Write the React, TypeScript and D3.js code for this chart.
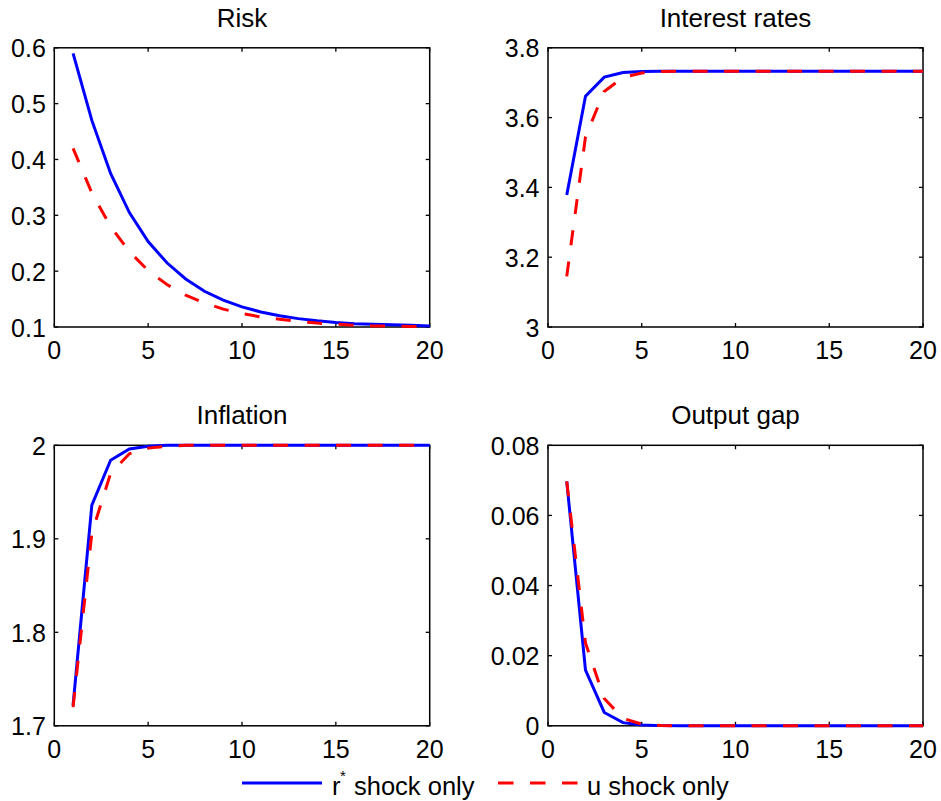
import React from "react";
import * as d3 from "d3";

const periods = d3.range(1, 21);

const riskRstar = [0.59, 0.47, 0.375, 0.305, 0.253, 0.215, 0.186, 0.164, 0.148, 0.136, 0.127, 0.12, 0.115, 0.111, 0.108, 0.106, 0.105, 0.104, 0.103, 0.102];
const riskU = [0.42, 0.34, 0.28, 0.235, 0.201, 0.176, 0.157, 0.143, 0.132, 0.124, 0.118, 0.114, 0.11, 0.107, 0.105, 0.103, 0.102, 0.102, 0.101, 0.101];

const rateRstar = [3.378, 3.661, 3.716, 3.729, 3.732, 3.733, 3.733, 3.733, 3.733, 3.733, 3.733, 3.733, 3.733, 3.733, 3.733, 3.733, 3.733, 3.733, 3.733, 3.733];
const rateU = [3.145, 3.545, 3.675, 3.715, 3.728, 3.732, 3.733, 3.733, 3.733, 3.733, 3.733, 3.733, 3.733, 3.733, 3.733, 3.733, 3.733, 3.733, 3.733, 3.733];

const inflRstar = [1.722, 1.936, 1.984, 1.996, 1.999, 2.0, 2.0, 2.0, 2.0, 2.0, 2.0, 2.0, 2.0, 2.0, 2.0, 2.0, 2.0, 2.0, 2.0, 2.0];
const inflU = [1.72, 1.906, 1.97, 1.991, 1.997, 1.999, 2.0, 2.0, 2.0, 2.0, 2.0, 2.0, 2.0, 2.0, 2.0, 2.0, 2.0, 2.0, 2.0, 2.0];

const gapRstar = [0.0697, 0.0159, 0.0038, 0.0009, 0.0002, 0.00005, 0, 0, 0, 0, 0, 0, 0, 0, 0, 0, 0, 0, 0, 0];
const gapU = [0.0697, 0.0236, 0.0078, 0.0021, 0.0005, 0.0001, 0, 0, 0, 0, 0, 0, 0, 0, 0, 0, 0, 0, 0, 0];

const titles = ["Risk", "Interest rates", "Inflation", "Output gap"];
const yDomains: [number, number][] = [[0.1, 0.6], [3, 3.8], [1.7, 2], [0, 0.08]];
const yTicks = [
  [0.1, 0.2, 0.3, 0.4, 0.5, 0.6],
  [3, 3.2, 3.4, 3.6, 3.8],
  [1.7, 1.8, 1.9, 2],
  [0, 0.02, 0.04, 0.06, 0.08],
];
const yTickLabels = [
  ["0.1", "0.2", "0.3", "0.4", "0.5", "0.6"],
  ["3", "3.2", "3.4", "3.6", "3.8"],
  ["1.7", "1.8", "1.9", "2"],
  ["0", "0.02", "0.04", "0.06", "0.08"],
];
const xTicks = [0, 5, 10, 15, 20];
const seriesR = [riskRstar, rateRstar, inflRstar, gapRstar];
const seriesU = [riskU, rateU, inflU, gapU];

const boxes = [
  { x0: 54.3, x1: 429.7, y0: 47.8, y1: 327 },
  { x0: 548, x1: 923, y0: 47.8, y1: 327 },
  { x0: 54.3, x1: 429.7, y0: 445.3, y1: 725.8 },
  { x0: 548, x1: 923, y0: 445.3, y1: 725.8 },
];

const FONT = "'Liberation Sans', Arial, Helvetica, sans-serif";
const BLUE = "#0000ff";
const RED = "#ff0000";
const DASH = "15,16.5";

function Panel({ i }: { i: number }) {
  const b = boxes[i];
  const x = d3.scaleLinear().domain([0, 20]).range([b.x0, b.x1]);
  const y = d3.scaleLinear().domain(yDomains[i]).range([b.y1, b.y0]);
  const line = d3
    .line<number>()
    .x((_, k) => x(periods[k]))
    .y((d) => y(d));
  const tl = 4;
  return (
    <g>
      <text x={(b.x0 + b.x1) / 2} y={b.y0 - 21} textAnchor="middle" fontSize={26} fontFamily={FONT} fill="#000">
        {titles[i]}
      </text>
      <rect x={b.x0} y={b.y0} width={b.x1 - b.x0} height={b.y1 - b.y0} fill="#fff" stroke="none" />
      {xTicks.map((t) => (
        <g key={"x" + t}>
          <line x1={x(t)} x2={x(t)} y1={b.y1} y2={b.y1 - tl} stroke="#000" strokeWidth={1.3} />
          <line x1={x(t)} x2={x(t)} y1={b.y0} y2={b.y0 + tl} stroke="#000" strokeWidth={1.3} />
          <text x={x(t)} y={b.y1 + 32} textAnchor="middle" fontSize={25} fontFamily={FONT} fill="#000">
            {t}
          </text>
        </g>
      ))}
      {yTicks[i].map((t, k) => (
        <g key={"y" + t}>
          <line x1={b.x0} x2={b.x0 + tl} y1={y(t)} y2={y(t)} stroke="#000" strokeWidth={1.3} />
          <line x1={b.x1} x2={b.x1 - tl} y1={y(t)} y2={y(t)} stroke="#000" strokeWidth={1.3} />
          <text x={b.x0 - 8.5} y={y(t) + 9.5} textAnchor="end" fontSize={25} fontFamily={FONT} fill="#000">
            {yTickLabels[i][k]}
          </text>
        </g>
      ))}
      <rect x={b.x0} y={b.y0} width={b.x1 - b.x0} height={b.y1 - b.y0} fill="none" stroke="#000" strokeWidth={1.5} />
      <path d={line(seriesR[i]) || ""} fill="none" stroke={BLUE} strokeWidth={3} strokeLinejoin="miter" />
      <path d={line(seriesU[i]) || ""} fill="none" stroke={RED} strokeWidth={3} strokeDasharray={DASH} />
    </g>
  );
}

export default function App() {
  return (
    <svg
      width={941}
      height={801}
      viewBox="0 0 941 801"
      style={{ position: "absolute", left: 0, top: 0, background: "#fff" }}
    >
      <rect x={0} y={0} width={941} height={801} fill="#fff" />
      {[0, 1, 2, 3].map((i) => (
        <Panel key={i} i={i} />
      ))}
      <g>
        <line x1={242} x2={322} y1={783} y2={783} stroke={BLUE} strokeWidth={3} />
        <text x={332} y={795} fontSize={25.5} fontFamily={FONT} fill="#000">
          r
        </text>
        <text x={340} y={781} fontSize={15} fontFamily={FONT} fill="#000">
          *
        </text>
        <text x={354} y={795} fontSize={25.5} fontFamily={FONT} fill="#000">
          shock only
        </text>
        <line x1={498} x2={578} y1={783} y2={783} stroke={RED} strokeWidth={3} strokeDasharray="15.5,16.5" />
        <text x={587} y={795} fontSize={25.5} fontFamily={FONT} fill="#000">
          u shock only
        </text>
      </g>
    </svg>
  );
}
